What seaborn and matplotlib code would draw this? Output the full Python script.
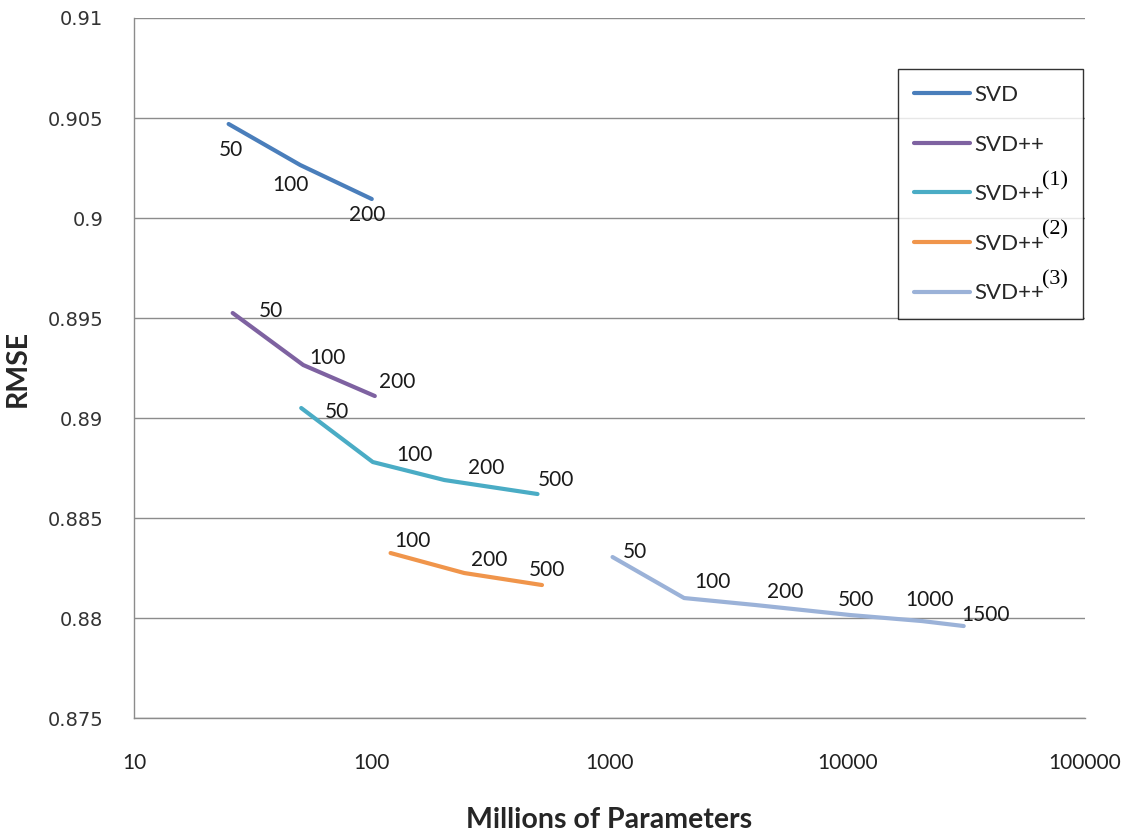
import numpy as np
import pandas as pd
import matplotlib
matplotlib.use("Agg")
import matplotlib.pyplot as plt
import matplotlib.transforms as mtransforms
import seaborn as sns

# =====================================
# DATA
# =====================================

series_names = ["SVD", "SVD++", "SVD++(1)", "SVD++(2)", "SVD++(3)"]
legend_main = ["SVD", "SVD++", "SVD++", "SVD++", "SVD++"]
legend_sup = ["", "", "(1)", "(2)", "(3)"]

svd_params = [25, 50, 100]
svd_rmse = [0.9047, 0.90265, 0.90095]
svd_factors = [50, 100, 200]

svdpp_params = [26, 51.5, 103]
svdpp_rmse = [0.89525, 0.89265, 0.8911]
svdpp_factors = [50, 100, 200]

svdpp1_params = [50.5, 101, 202, 498]
svdpp1_rmse = [0.8905, 0.8878, 0.8869, 0.8862]
svdpp1_factors = [50, 100, 200, 500]

svdpp2_params = [120, 245, 520]
svdpp2_rmse = [0.88325, 0.88225, 0.88165]
svdpp2_factors = [100, 200, 500]

svdpp3_params = [1030, 2060, 4120, 10300, 20600, 30900]
svdpp3_rmse = [0.88305, 0.8810, 0.88065, 0.88015, 0.87985, 0.8796]
svdpp3_factors = [50, 100, 200, 500, 1000, 1500]

y_ticks = [0.875, 0.88, 0.885, 0.89, 0.895, 0.9, 0.905, 0.91]
y_tick_labels = ["0.875", "0.88", "0.885", "0.89", "0.895", "0.9", "0.905", "0.91"]
x_ticks = [10, 100, 1000, 10000, 100000]
x_tick_labels = ["10", "100", "1000", "10000", "100000"]

# =====================================
# STYLE
# =====================================

colors = ["#4A7EBB", "#7E62A1", "#4AACC5", "#F0954B", "#9BB2D8"]

# label offsets in pixels (dx, dy) for each point label
label_offsets = {
    "SVD": [(2, -26), (-10, -20), (-5, -16)],
    "SVD++": [(38, 2), (24, 7), (22, 14)],
    "SVD++(1)": [(36, -4), (42, 7), (42, 12), (18, 14)],
    "SVD++(2)": [(22, 12), (25, 13), (5, 15)],
    "SVD++(3)": [(22, 5), (28, 16), (30, 13), (6, 15), (8, 21), (22, 11)],
}

sns.set_style("white")
plt.rcParams["font.family"] = ["Lato", "DejaVu Sans"]

# =====================================
# BUILD TABLE
# =====================================

frames = []
for name, xs, ys, fs in zip(
    series_names,
    [svd_params, svdpp_params, svdpp1_params, svdpp2_params, svdpp3_params],
    [svd_rmse, svdpp_rmse, svdpp1_rmse, svdpp2_rmse, svdpp3_rmse],
    [svd_factors, svdpp_factors, svdpp1_factors, svdpp2_factors, svdpp3_factors],
):
    frames.append(pd.DataFrame({"series": name, "params": xs, "rmse": ys, "f": fs}))
df = pd.concat(frames, ignore_index=True)

# =====================================
# PLOT
# =====================================

fig = plt.figure(figsize=(11.31, 8.33), dpi=100)
ax = fig.add_axes([0.1185, 0.138, 0.8408, 0.8404])

sns.lineplot(
    data=df,
    x="params",
    y="rmse",
    hue="series",
    hue_order=series_names,
    palette=colors,
    linewidth=3.0,
    sort=False,
    ax=ax,
)

ax.set_xscale("log")
ax.set_xlim(10, 100000)
ax.set_ylim(0.875, 0.91)

# point labels
for name in series_names:
    sub = df[df["series"] == name]
    for (px, py, f), off in zip(sub[["params", "rmse", "f"]].values, label_offsets[name]):
        ax.annotate(
            str(int(f)),
            (px, py),
            xytext=off,
            textcoords="offset pixels",
            ha="center",
            va="center",
            fontsize=15,
            color="#1a1a1a",
        )

# grid and spines
ax.set_yticks(y_ticks)
ax.set_yticklabels(y_tick_labels, fontsize=14, family="DejaVu Sans", color="#333333")
ax.set_xticks(x_ticks)
ax.set_xticklabels(x_tick_labels, fontsize=15, color="#222222")
ax.minorticks_off()
ax.tick_params(axis="y", length=0, pad=22)
ax.tick_params(axis="x", length=0, pad=25)
ax.yaxis.grid(True, color="#8c8c8c", linewidth=1.0)
ax.xaxis.grid(False)
for side in ["top", "right"]:
    ax.spines[side].set_visible(False)
for side in ["left", "bottom"]:
    ax.spines[side].set_color("#8c8c8c")
    ax.spines[side].set_linewidth(1.0)

ax.set_xlabel("Millions of Parameters", fontsize=20.5, fontweight="bold", labelpad=25)
ax.set_ylabel("RMSE", fontsize=20.5, fontweight="bold", labelpad=12)

handles, _ = ax.get_legend_handles_labels()
leg = ax.legend(
    handles,
    legend_main,
    loc="upper left",
    bbox_to_anchor=(0.8034, 0.5, 0.1945, 0.427),
    mode="expand",
    borderaxespad=0,
    fontsize=16,
    frameon=True,
    fancybox=False,
    edgecolor="black",
    handlelength=2.5,
    handletextpad=0.2,
    labelspacing=1.33,
    borderpad=0.72,
)
leg.get_frame().set_linewidth(1.0)
for line in leg.get_lines():
    line.set_linewidth(3.0)

# superscripts for the legend labels (Times-like, larger than usual)
fig.canvas.draw()
for txt, sup in zip(leg.get_texts(), legend_sup):
    if not sup:
        continue
    bb = txt.get_window_extent()
    fig.text(
        bb.x1 - 2,
        bb.y0 + 19,
        sup,
        transform=mtransforms.IdentityTransform(),
        fontsize=16,
        family="Liberation Serif",
        va="baseline",
        ha="left",
        color="black",
    )

fig.savefig("out.png", dpi=100)
